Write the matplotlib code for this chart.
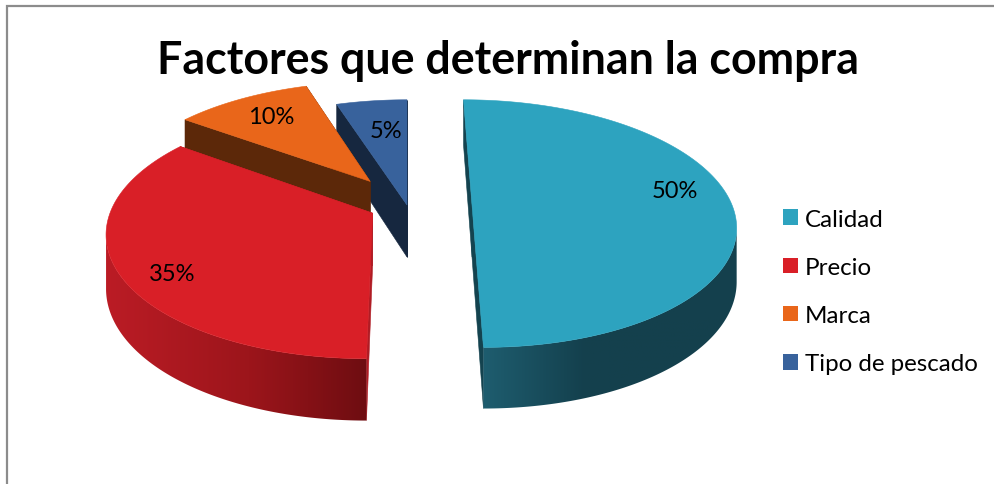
import numpy as np
import matplotlib
matplotlib.use("Agg")
import matplotlib.pyplot as plt
from matplotlib.colors import LinearSegmentedColormap
from matplotlib.patches import Patch, Polygon

# --- data ---
categories = ["Calidad", "Precio", "Marca", "Tipo de pescado"]
values = [50, 35, 10, 5]
title = "Factores que determinan la compra"

# --- style ---
top_colors = ["#2da3bf", "#d91f27", "#e9661a", "#38629c"]
radial_colors = ["#14434f", "#b01c24", "#5c2809", "#16273f"]
rim_stops = [
    [(0.0, "#1e5d6f"), (0.4, "#14404d"), (1.0, "#14404d")],
    [(0.0, "#bb1c25"), (0.55, "#9c151b"), (1.0, "#6e0d11")],
    [(0.0, "#5c2809"), (1.0, "#5c2809")],
    [(0.0, "#16273f"), (1.0, "#16273f")],
]
explode = [0.25, 0.147, 0.248, 0.0]
label_xy = [(675, 192), (172, 275), (271, 118), (386, 132)]

X0, Y0, RX, RY, K, DEPTH = 407, 206, 260, 121, 0.15, 52
FONT = "Lato"


def project(u, v, z=0.0):
    d = 1 + K * v
    return np.column_stack([X0 + RX * u / d, Y0 - RY * v / d + z * DEPTH / d])


fig = plt.figure(figsize=(9.94, 4.85), dpi=100)
ax = fig.add_axes([0, 0, 1, 1])
ax.axis("off")

# frame
ax.plot([7, 7, 994], [485, 7, 7], color="#8c8c8c", lw=1.6, solid_joinstyle="miter")

edges = np.cumsum([0] + values) / sum(values) * 2 * np.pi
slices = [(i, edges[i], edges[i + 1]) for i in range(len(values))]

# painter's order: back slices first
for i, a0, a1 in reversed(slices):
    z = 2 + (3 - i) * 2
    mid = (a0 + a1) / 2
    cu, cv = explode[i] * np.sin(mid), explode[i] * np.cos(mid)
    th = np.linspace(a0, a1, 400)
    u, v = cu + np.sin(th), cv + np.cos(th)

    # radial walls
    for a in (a0, a1):
        ru = np.array([cu, cu + np.sin(a)])
        rv = np.array([cv, cv + np.cos(a)])
        t, b = project(ru, rv), project(ru, rv, 1.0)
        ax.add_patch(Polygon(np.vstack([t, b[::-1]]), fc=radial_colors[i],
                             ec=radial_colors[i], lw=0.4, zorder=z))

    t, b = project(u, v), project(u, v, 1.0)

    # outer rim wall: only the part facing the viewer (x falls as the angle grows),
    # with a horizontal gradient clipped to the wall's outline
    front = np.gradient(t[:, 0]) < 0
    if front.sum() > 1:
        outline = np.vstack([t[front], b[front][::-1]])
        clip = Polygon(outline, fc="none", ec="none", transform=ax.transData)
        ax.add_patch(clip)
        xmin, xmax = outline[:, 0].min(), outline[:, 0].max()
        ymin, ymax = outline[:, 1].min(), outline[:, 1].max()
        cmap = LinearSegmentedColormap.from_list(f"rim{i}", rim_stops[i])
        im = ax.imshow(np.linspace(0, 1, 256)[None, :], cmap=cmap, vmin=0, vmax=1,
                       extent=(xmin, xmax, ymax, ymin), aspect="auto",
                       interpolation="bilinear", zorder=z)
        im.set_clip_path(clip)

    # top surface
    top = np.vstack([project(np.array([cu]), np.array([cv])), t])
    ax.add_patch(Polygon(top, fc=top_colors[i], ec=top_colors[i], lw=0.4, zorder=z + 1))

ax.set_xlim(0, 994)
ax.set_ylim(485, 0)

# percentage labels
for val, (x, y) in zip(values, label_xy):
    ax.text(x, y, f"{val / sum(values):.0%}", ha="center", va="center",
            fontsize=17, family=FONT, color="black", zorder=20)

ax.text(508, 61, title, ha="center", va="center", fontsize=32.2, fontweight="bold",
        family=FONT, color="black", zorder=20)

handles = [Patch(fc=c, ec="none") for c in top_colors]
ax.legend(handles, categories, loc="center left", bbox_to_anchor=(783, 292.5),
          bbox_transform=ax.transData, frameon=False, handlelength=0.63, handleheight=0.63,
          handletextpad=0.28, labelspacing=1.12, borderpad=0, borderaxespad=0,
          prop={"family": FONT, "size": 17.4})

fig.savefig("out.png", dpi=100)
